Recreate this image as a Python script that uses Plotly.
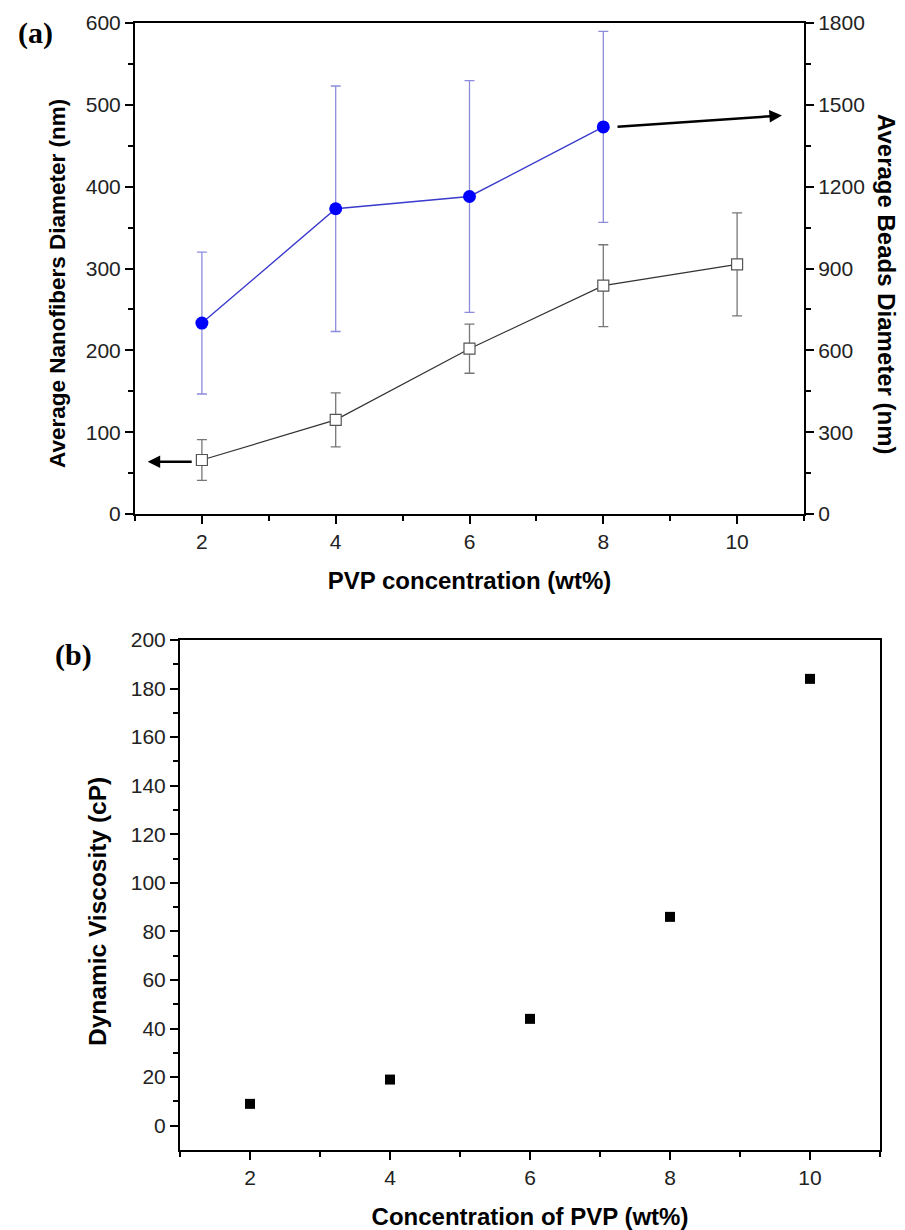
import plotly.graph_objects as go

# ---- Data: panel (a) ----
pvp_conc = [2, 4, 6, 8, 10]
fiber_diam = [66, 115, 202, 279, 305]          # nm, left axis
fiber_err = [25, 33, 30, 50, 63]
bead_conc = [2, 4, 6, 8]
bead_diam = [700, 1119, 1164, 1419]            # nm, right axis
bead_err = [260, 450, 425, 350]

# ---- Data: panel (b) ----
visc_conc = [2, 4, 6, 8, 10]
viscosity = [9, 19, 44, 86, 184]               # cP

FONT = "Liberation Sans, Arial, sans-serif"
SERIF = "Liberation Serif, Times New Roman, serif"

# page body has an 8px default margin; figure sized to fit the window
W, H, OFF = 897, 1222, 8


def px(x):
    return (x - OFF) / W


def py(y):
    return 1 - (y - OFF) / H


fig = go.Figure()

fig.add_trace(go.Scatter(
    x=pvp_conc, y=fiber_diam, mode="lines+markers",
    line=dict(color="#333333", width=1.2),
    marker=dict(symbol="square", size=11, color="white",
                line=dict(color="#555555", width=1.2)),
    error_y=dict(type="data", array=fiber_err, color="#777777",
                 thickness=1.3, width=5),
    xaxis="x", yaxis="y", showlegend=False))

fig.add_trace(go.Scatter(
    x=bead_conc, y=bead_diam, mode="lines+markers",
    line=dict(color="#3a3acc", width=1.4),
    marker=dict(symbol="circle", size=13, color="#0000ff"),
    error_y=dict(type="data", array=bead_err, color="#8c8cdc",
                 thickness=1.3, width=5),
    xaxis="x", yaxis="y2", showlegend=False))

fig.add_trace(go.Scatter(
    x=visc_conc, y=viscosity, mode="markers",
    marker=dict(symbol="square", size=10, color="black"),
    xaxis="x3", yaxis="y3", showlegend=False))

axis_common = dict(showline=True, linecolor="black", linewidth=2,
                   ticks="outside", tickcolor="black", tickwidth=2,
                   showgrid=False, zeroline=False, automargin=False)


def minor(vals):
    return dict(tickvals=vals, ticklen=5, tickcolor="black", tickwidth=2,
                ticks="outside")


fig.update_layout(
    width=W, height=H,
    margin=dict(l=0, r=0, t=0, b=0, autoexpand=False),
    paper_bgcolor="white", plot_bgcolor="white",
    font=dict(family=FONT, color="black"),
    xaxis=dict(**axis_common, domain=[px(135), px(804)], anchor="y",
               range=[1, 11], tickvals=[2, 4, 6, 8, 10], ticklen=8,
               minor=minor([1, 3, 5, 7, 9, 11]), mirror=True,
               tickfont=dict(size=21, color="#222"),
               title=dict(text="<b>PVP concentration (wt%)</b>",
                          font=dict(size=24), standoff=20)),
    yaxis=dict(**axis_common, domain=[py(514), py(23)], anchor="x",
               range=[0, 600], tickvals=[0, 100, 200, 300, 400, 500, 600],
               ticklen=8, minor=minor([50, 150, 250, 350, 450, 550]),
               tickfont=dict(size=21, color="#222")),
    yaxis2=dict(**axis_common, overlaying="y", side="right", anchor="x",
                range=[0, 1800],
                tickvals=[0, 300, 600, 900, 1200, 1500, 1800], ticklen=8,
                minor=minor([150, 450, 750, 1050, 1350, 1650]),
                tickfont=dict(size=21, color="#222")),
    xaxis3=dict(**axis_common, domain=[px(180), px(880)], anchor="y3",
                range=[1, 11], tickvals=[2, 4, 6, 8, 10], ticklen=8,
                minor=minor([1, 3, 5, 7, 9, 11]), mirror=True,
                tickfont=dict(size=21, color="#222"),
                title=dict(text="<b>Concentration of PVP (wt%)</b>",
                           font=dict(size=24), standoff=20)),
    yaxis3=dict(**axis_common, domain=[py(1150), py(640)],
                anchor="x3", range=[-10, 200],
                tickvals=list(range(0, 201, 20)), ticklen=8,
                minor=minor(list(range(10, 200, 20))), mirror=True,
                tickfont=dict(size=21, color="#222")),
)

# y-axis titles placed as rotated text
fig.add_annotation(text="<b>Average Nanofibers Diameter (nm)</b>",
                   xref="paper", yref="paper", x=px(57), y=py(284),
                   xanchor="center", yanchor="middle",
                   textangle=-90, showarrow=False,
                   font=dict(size=22.5, family=FONT))
fig.add_annotation(text="<b>Average Beads Diameter (nm)</b>",
                   xref="paper", yref="paper", x=px(887), y=py(284),
                   xanchor="center", yanchor="middle",
                   textangle=90, showarrow=False,
                   font=dict(size=24, family=FONT))
fig.add_annotation(text="<b>Dynamic Viscosity (cP)</b>",
                   xref="paper", yref="paper", x=px(98), y=py(912),
                   xanchor="center", yanchor="middle",
                   textangle=-90, showarrow=False,
                   font=dict(size=24.5, family=FONT))

# panel labels
fig.add_annotation(text="<b>(a)</b>", xref="paper", yref="paper",
                   x=px(35), y=py(33), xanchor="center", yanchor="middle",
                   showarrow=False, font=dict(size=30, family=SERIF))
fig.add_annotation(text="<b>(b)</b>", xref="paper", yref="paper",
                   x=px(73), y=py(655), xanchor="center", yanchor="middle",
                   showarrow=False, font=dict(size=30, family=SERIF))

# arrows indicating axis association
fig.add_annotation(x=1.19, y=64, ax=1.87, ay=64, xref="x", yref="y",
                   axref="x", ayref="y", showarrow=True, arrowhead=2,
                   arrowsize=1, arrowwidth=2.5, arrowcolor="black", text="")
fig.add_annotation(x=10.67, y=487, ax=8.19, ay=473, xref="x", yref="y",
                   axref="x", ayref="y", showarrow=True, arrowhead=2,
                   arrowsize=1, arrowwidth=2.5, arrowcolor="black", text="")

fig.write_html("out.html")
